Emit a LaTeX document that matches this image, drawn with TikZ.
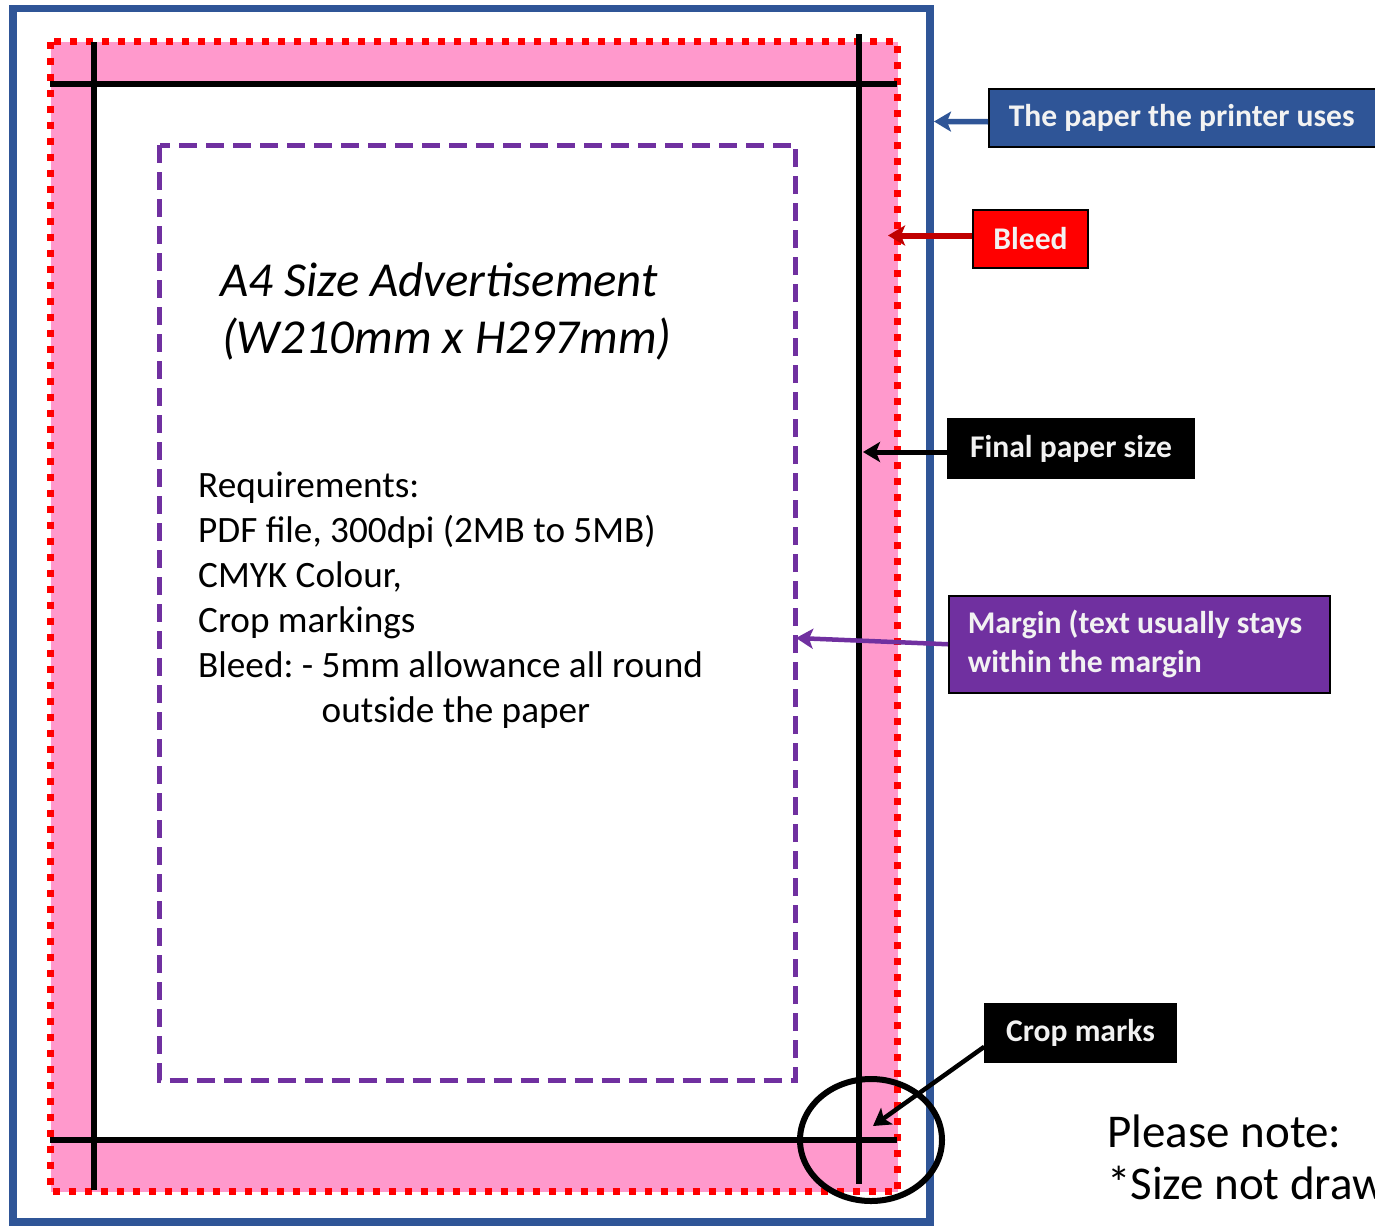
\documentclass[tikz,border=0pt]{standalone}
\usepackage{fontspec}
\setmainfont{Carlito}
\usetikzlibrary{arrows.meta}
\definecolor{frameblue}{HTML}{2F5597}
\definecolor{bleedpink}{HTML}{FF99CC}
\definecolor{marginpurple}{HTML}{7030A0}
\definecolor{darkred}{HTML}{C00000}
\definecolor{labeltext}{HTML}{F2F2F2}
\begin{document}
\frenchspacing
\begin{tikzpicture}[x=1pt,y=-1pt,
  labelbox/.style={draw=black, line width=1.5pt, text=labeltext, inner sep=0pt,
    font=\fontsize{31.6}{38}\selectfont\bfseries},
  pointer/.style={-{Stealth[length=17pt,width=20pt,inset=4pt]}},
  reqline/.style={anchor=base west, inner sep=0pt, font=\fontsize{37.2}{45}\selectfont},
  titleline/.style={anchor=base west, inner sep=0pt, font=\fontsize{48.8}{58}\selectfont\itshape},
  noteline/.style={anchor=base west, inner sep=0pt, font=\fontsize{47}{57}\selectfont},
  cropline/.style={line width=6pt, black}]
\useasboundingbox (0,0) rectangle (1375,1226);
\clip (0,0) rectangle (1375,1226);
\fill[white] (0,0) rectangle (1375,1226);

% printer paper
\draw[frameblue, line width=7.5pt] (13,8.5) rectangle (930,1222);
% bleed area
\fill[bleedpink] (50.5,41.5) rectangle (897.5,1191.5);
\fill[white] (94,84) rectangle (859,1140);
\draw[red, line width=7pt, dash pattern=on 7pt off 9pt] (50.5,41.5) rectangle (897.5,1191.5);
% crop marks / final size
\draw[cropline] (50,84) -- (897,84);
\draw[cropline] (94,42) -- (94,1190);
\draw[cropline] (859,34) -- (859,1184);
\draw[cropline] (50,1140) -- (897,1140);
% margin
\draw[marginpurple, line width=5pt, dash pattern=on 18pt off 9pt] (159.5,145) rectangle (795.5,1080);

% texts
\node[titleline] (title1) at (220,296) {A4 Size Advertisement};
\node[titleline] (title2) at (222,353) {(W210mm x H297mm)};

\node[reqline] (req1) at (198,497) {Requirements:};
\node[reqline] (req2) at (198,542) {PDF file, 300dpi (2MB to 5MB)};
\node[reqline] (req3) at (198,587) {CMYK Colour,};
\node[reqline] (req4) at (198,632) {Crop markings};
\node[reqline] (req5) at (198,677) {Bleed: - 5mm allowance all round};
\node[reqline] (req6) at (198,722) {\phantom{Bleed: - }outside the paper};

\node[noteline] (note1) at (1107,1147) {Please note:};
\node[noteline] (note2) at (1107,1199) {*Size not drawn to scale};

% crop-mark circle
\draw[line width=6pt] (871,1140) ellipse [x radius=71pt, y radius=61pt];

% labels
\node[labelbox, fill=frameblue, anchor=north west, text width=370pt, align=flush left,
      inner xsep=20pt, minimum height=58pt] (lpaper) at (988,88) {The paper the printer uses};
\node[labelbox, fill=red, minimum width=115pt, minimum height=58pt] (lbleed) at (1030.5,239) {Bleed};
\node[labelbox, fill=black, minimum width=246pt, minimum height=59pt] (lfinal) at (1071,448.5) {Final paper size};
\node[labelbox, fill=marginpurple, anchor=north west, text width=343pt, align=flush left,
      inner xsep=19pt, minimum height=97pt,
      font=\fontsize{31.6}{39}\selectfont\bfseries] (lmargin) at (948,595) {Margin (text usually stays\\within the margin};
\node[labelbox, fill=black, minimum width=191pt, minimum height=58pt] (lcrop) at (1080.5,1033) {Crop marks};

% arrow targets
\coordinate (tpaper) at (934,121.5);
\coordinate (tbleed) at (888,235.5);
\coordinate (tfinal) at (863,452);
\coordinate (tmargin) at (796,638);
\coordinate (tcrop) at (873,1126);

\draw[pointer, frameblue, line width=5.5pt] ([yshift=-4pt]lpaper.west) -- (tpaper);
\draw[pointer, darkred, line width=6pt] ([yshift=3.5pt]lbleed.west) -- (tbleed);
\draw[pointer, black, line width=5pt] ([yshift=-3.5pt]lfinal.west) -- (tfinal);
\draw[pointer, marginpurple, line width=4.5pt] (lmargin.west) -- (tmargin);
\draw[pointer, black, line width=4.5pt] ([yshift=16pt]lcrop.south west) -- (tcrop);
\end{tikzpicture}
\end{document}
